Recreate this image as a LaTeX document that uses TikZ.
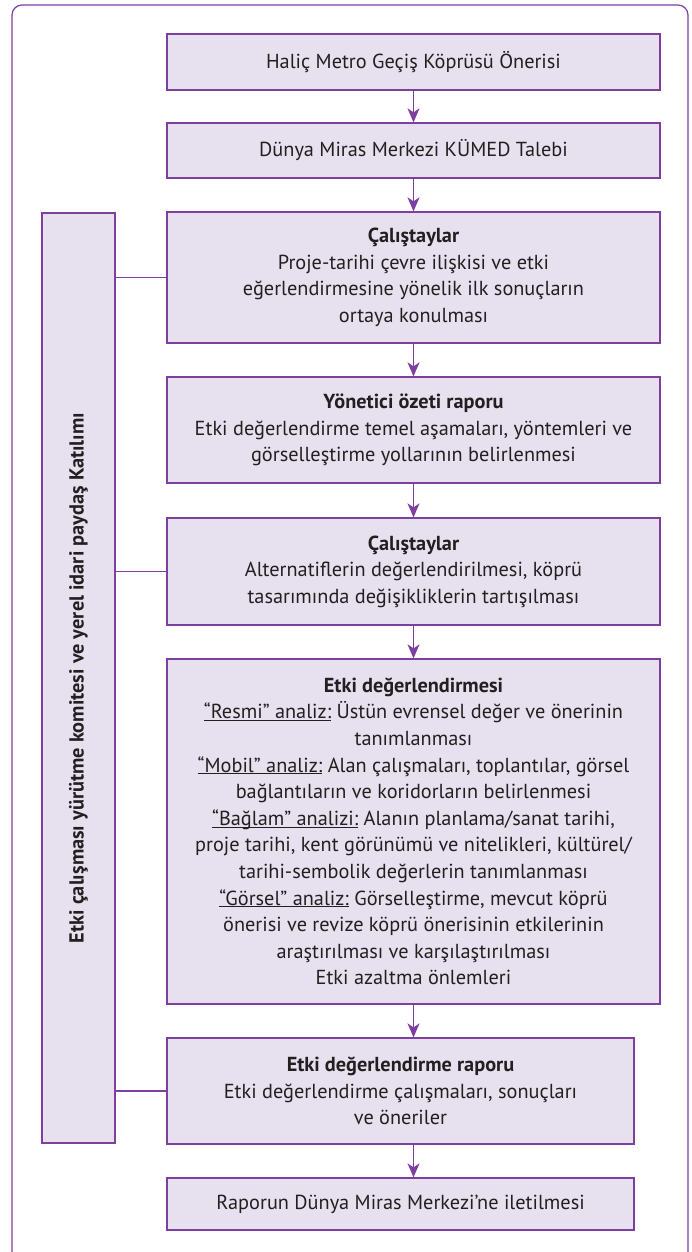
\documentclass[tikz,border=0pt]{standalone}
\usepackage{fontspec}
\setmainfont{PT Sans}
\usetikzlibrary{arrows.meta,calc}
\definecolor{pfill}{HTML}{E7E1EF}
\definecolor{pline}{HTML}{7E3FA0}
\definecolor{ptext}{HTML}{231F20}
\newcommand{\ulab}[1]{\underline{\smash{#1}}}
\begin{document}
\begin{tikzpicture}[x=1pt,y=-1pt,
  box/.style={draw=pline, fill=pfill, line width=1.3pt, align=center, inner sep=0pt,
    font=\fontsize{20.3}{26.6}\selectfont, text=ptext},
  arr/.style={draw=pline, line width=1.3pt, -{Stealth[length=14pt,width=12pt,inset=4pt]}},
  link/.style={draw=pline, line width=1.3pt}]
\clip (0,0) rectangle (691,1252);
\fill[white] (0,0) rectangle (691,1252);
\draw[pline, line width=1.2pt, rounded corners=10pt] (12,5) rectangle (688,1280);

\coordinate (ax) at (413.5,0);

\node[box, minimum width=493pt, minimum height=56pt] (b1) at (413.5,62)
  {Haliç Metro Geçiş Köprüsü Önerisi};
\node[box, minimum width=493pt, minimum height=55pt] (b2) at (413.5,150.5)
  {Dünya Miras Merkezi KÜMED Talebi};
\node[box, minimum width=493pt, minimum height=131pt] (b3) at (413.5,277.5)
  {{\bfseries Çalıştaylar}\\Proje-tarihi çevre ilişkisi ve etki\\eğerlendirmesine yönelik ilk sonuçların\\ortaya konulması};
\node[box, minimum width=493pt, minimum height=106pt] (b4) at (413.5,430)
  {{\bfseries Yönetici özeti raporu}\\Etki değerlendirme temel aşamaları, yöntemleri ve\\görselleştirme yollarının belirlenmesi};
\node[box, minimum width=493pt, minimum height=107pt] (b5) at (413.5,571.5)
  {{\bfseries Çalıştaylar}\\Alternatiflerin değerlendirilmesi, köprü\\tasarımında değişikliklerin tartışılması};
\node[box, minimum width=493pt, minimum height=345pt] (b6) at (413.5,831.5)
  {{\bfseries Etki değerlendirmesi}\\
   \ulab{“Resmi” analiz:} Üstün evrensel değer ve önerinin\\
   tanımlanması\\
   \ulab{“Mobil” analiz:} Alan çalışmaları, toplantılar, görsel\\
   bağlantıların ve koridorların belirlenmesi\\
   \ulab{“Bağlam” analizi:} Alanın planlama/sanat tarihi,\\
   proje tarihi, kent görünümü ve nitelikleri, kültürel/\\
   tarihi-sembolik değerlerin tanımlanması\\
   \ulab{“Görsel” analiz:} Görselleştirme, mevcut köprü\\
   önerisi ve revize köprü önerisinin etkilerinin\\
   araştırılması ve karşılaştırılması\\
   Etki azaltma önlemleri};
\node[box, minimum width=467pt, minimum height=106pt] (b7) at (400.5,1091)
  {{\bfseries Etki değerlendirme raporu}\\Etki değerlendirme çalışmaları, sonuçları\\ve öneriler};
\node[box, minimum width=467pt, minimum height=52pt] (b8) at (400.5,1204)
  {Raporun Dünya Miras Merkezi’ne iletilmesi};

\node[box, rotate=90, minimum width=930pt, minimum height=73pt, font=\fontsize{20.3}{24}\selectfont\bfseries] (side) at (78.5,678)
  {Etki çalışması yürütme komitesi ve yerel idari paydaş Katılımı};

\draw[arr] (b1.south -| ax) -- (b2.north -| ax);
\draw[arr] (b2.south -| ax) -- (b3.north -| ax);
\draw[arr] (b3.south -| ax) -- (b4.north -| ax);
\draw[arr] (b4.south -| ax) -- (b5.north -| ax);
\draw[arr] (b5.south -| ax) -- (b6.north -| ax);
\draw[arr] (b6.south -| ax) -- (b7.north -| ax);
\draw[arr] (b7.south -| ax) -- (b8.north -| ax);

\draw[link] (side.south |- b3.west) -- (b3.west);
\draw[link] (side.south |- b5.west) -- (b5.west);
\draw[link] (side.south |- b7.west) -- (b7.west);
\end{tikzpicture}
\end{document}
